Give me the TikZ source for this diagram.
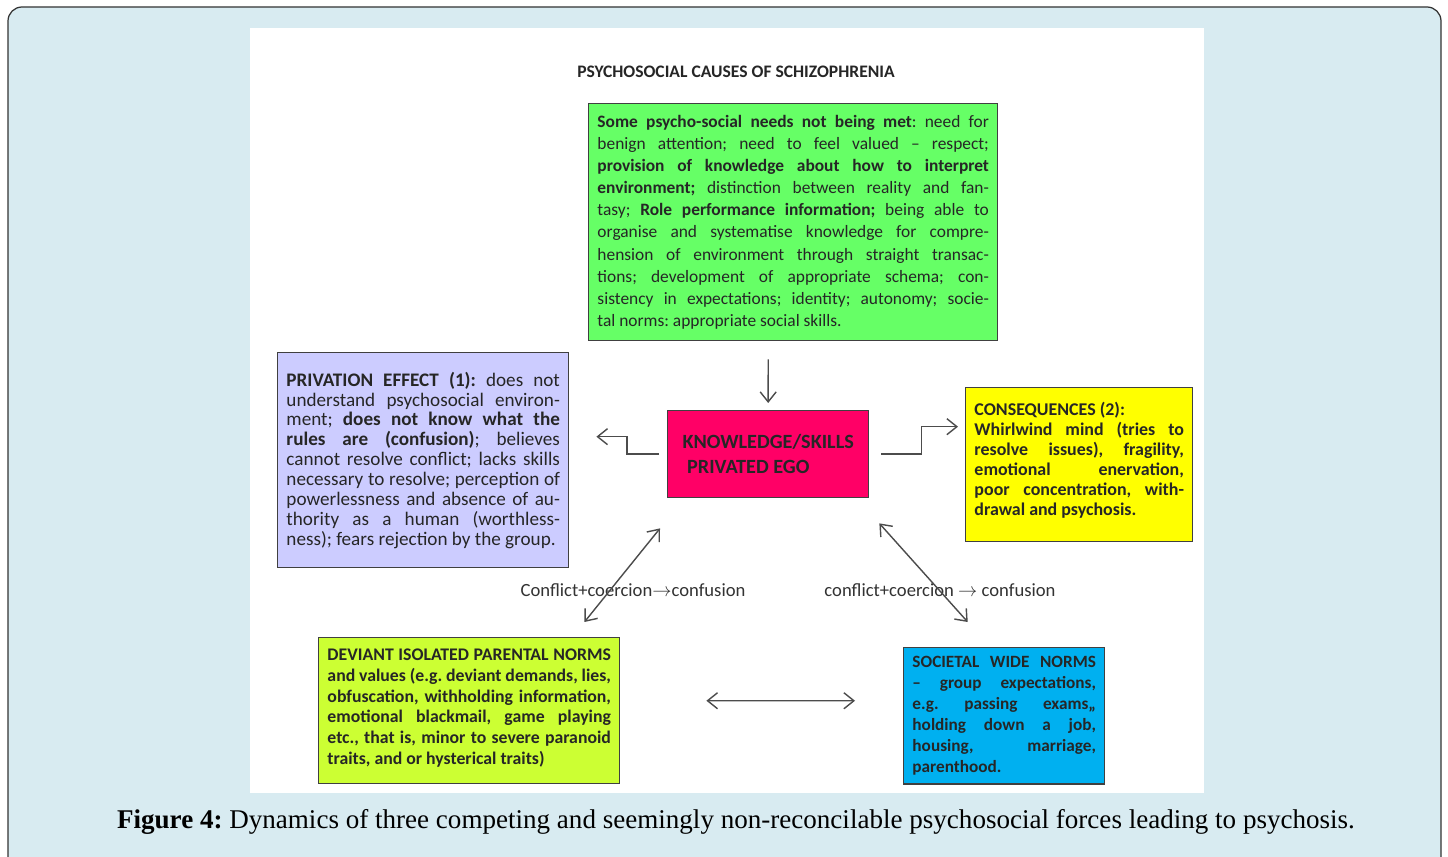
\documentclass[tikz,border=0pt]{standalone}
\usepackage{fontspec}
\setmainfont{Carlito}
\newfontfamily\captionfont{Liberation Serif}
\usepackage{tikz}
\usetikzlibrary{positioning, arrows.meta}
\definecolor{framebg}{RGB}{216,235,241}
\definecolor{needsgreen}{RGB}{102,255,102}
\definecolor{lavender}{RGB}{204,204,255}
\definecolor{egopink}{RGB}{255,0,102}
\definecolor{consyellow}{RGB}{255,255,0}
\definecolor{lime}{RGB}{204,255,51}
\definecolor{normblue}{RGB}{0,176,240}
\tikzstyle{box} = [rectangle, anchor=north west, draw=black!75, line width=0.8pt, inner sep=5pt, text=black!85, align=justify]
\tikzstyle{arrow} = [line width=0.8pt, draw=black!70, -{Straight Barb[length=2mm, width=3.2mm]}]
\tikzstyle{dblarrow} = [line width=0.8pt, draw=black!70, {Straight Barb[length=2mm, width=3.2mm]}-{Straight Barb[length=2mm, width=3.2mm]}]
\frenchspacing
\hbadness=10000

\begin{document}
\begin{tikzpicture}[x=0.02cm, y=-0.02cm]

    \clip (0,0) rectangle (1448,857);

    % Frame and panel
    \draw[draw=black!80, line width=0.7pt, fill=framebg, rounded corners=0.28cm] (8,7) rectangle (1441,890);
    \fill[white] (250,28) rectangle (1204,793);

    % Nodes
    \node (title) at (736,72) [font=\fontsize{10}{12}\selectfont\bfseries, text=black!85] {PSYCHOSOCIAL CAUSES OF SCHIZOPHRENIA};

    \node (needs) at (588,103) [box, fill=needsgreen, text width=7.83cm, minimum width=8.18cm, minimum height=4.74cm, font=\fontsize{9.9}{12.6}\selectfont] {\textbf{Some psycho-social needs not being met}: need for\linebreak benign attention; need to feel valued -- respect;\linebreak \textbf{provision of knowledge about how to interpret}\linebreak \textbf{environment;} distinction between reality and fan-\linebreak tasy; \textbf{Role performance information;} being able to\linebreak organise and systematise knowledge for compre-\linebreak hension of environment through straight transac-\linebreak tions; development of appropriate schema; con-\linebreak sistency in expectations; identity; autonomy; socie-\linebreak tal norms: appropriate social skills.};

    \node (privation) at (277,352) [box, fill=lavender, text width=5.47cm, minimum width=5.82cm, minimum height=4.30cm, font=\fontsize{10.9}{11.3}\selectfont] {\textbf{PRIVATION EFFECT (1):} does not\linebreak understand psychosocial environ-\linebreak ment; \textbf{does not know what the}\linebreak \textbf{rules are (confusion)}; believes\linebreak cannot resolve conflict; lacks skills\linebreak necessary to resolve; perception of\linebreak powerlessness and absence of au-\linebreak thority as a human (worthless-\linebreak ness); fears rejection by the group.};

    \node (ego) at (667,410) [box, fill=egopink, align=left, minimum width=4.02cm, minimum height=1.74cm, font=\fontsize{11.5}{14}\selectfont\bfseries, text=black!85] {KNOWLEDGE/SKILLS\\ \ PRIVATED EGO};

    \node (consequences) at (965,387) [box, fill=consyellow, text width=4.19cm, minimum width=4.54cm, minimum height=3.08cm, font=\fontsize{10.2}{11.4}\selectfont\bfseries] {CONSEQUENCES (2):\newline Whirlwind mind (tries to\linebreak resolve issues), fragility,\linebreak emotional enervation,\linebreak poor concentration, with-\linebreak drawal and psychosis.\par\vspace*{5pt}};

    \node (parental) at (318,637) [box, fill=lime, text width=5.67cm, minimum width=6.02cm, minimum height=2.92cm, font=\fontsize{10.1}{11.8}\selectfont\bfseries] {DEVIANT ISOLATED PARENTAL NORMS\linebreak and values (e.g. deviant demands, lies,\linebreak obfuscation, withholding information,\linebreak emotional blackmail, game playing\linebreak etc., that is, minor to severe paranoid\linebreak traits, and or hysterical traits)\par\vspace*{3pt}};

    \node (societal) at (903,647) [box, fill=normblue, text width=3.67cm, minimum width=4.02cm, minimum height=2.72cm, font=\fontsize{9.8}{11.9}\selectfont\bfseries] {SOCIETAL WIDE NORMS\linebreak -- group expectations,\linebreak e.g. passing exams,,\linebreak holding down a job,\linebreak housing, marriage,\linebreak parenthood.};

    \node (conflictL) at (633,590) [font=\fontsize{10.6}{12}\selectfont, text=black!80] {Conflict+coercion$\to$confusion};
    \node (conflictR) at (940,590) [font=\fontsize{10.6}{12}\selectfont, text=black!80] {conflict+coercion $\to$ confusion};

    \node (caption) at (736,822) [font=\captionfont\fontsize{15.4}{17}\selectfont, text=black] {\textbf{Figure 4:} Dynamics of three competing and seemingly non-reconcilable psychosocial forces leading to psychosis.};

    % Arrows
    \draw [arrow] ([xshift=-0.5cm, yshift=-0.36cm]needs.south) -- ([yshift=0.14cm]ego.north);
    \draw [arrow] ([xshift=-0.16cm]ego.west) -- ++(-32,0) |- ([xshift=0.54cm, yshift=0.47cm]privation.east);
    \draw [arrow] ([xshift=0.24cm]ego.east) -- ++(40,0) |- ([xshift=-0.14cm, yshift=0.76cm]consequences.west);
    \draw [dblarrow] ([xshift=-0.72cm, yshift=0.3cm]parental.north east) -- ([xshift=-0.14cm, yshift=-0.6cm]ego.south west);
    \draw [dblarrow] ([xshift=0.2cm, yshift=-0.5cm]ego.south east) -- ([xshift=-0.73cm, yshift=0.5cm]societal.north);
    \draw [dblarrow] ([xshift=1.72cm]parental.east |- societal.west) ++(0,-15) -- ([xshift=-0.96cm, yshift=0.3cm]societal.west);

\end{tikzpicture}
\end{document}
